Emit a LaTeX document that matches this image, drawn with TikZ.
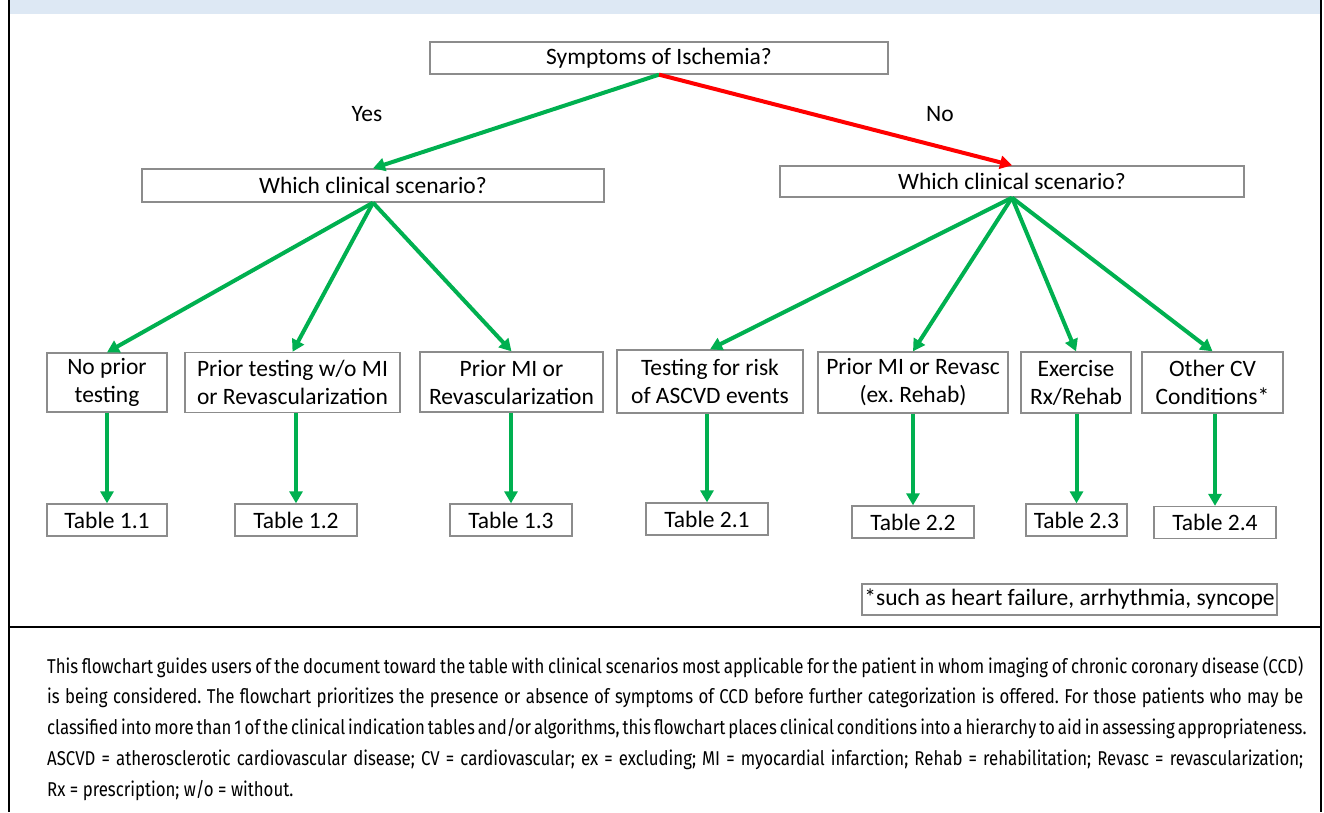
\documentclass[tikz,border=0pt]{standalone}
\usepackage{fontspec}
\setmainfont{Carlito}
\newfontfamily\capfont[FakeStretch=0.84]{Fira Sans}
\usetikzlibrary{arrows.meta}

\definecolor{arrgreen}{RGB}{0,176,80}
\definecolor{arrred}{RGB}{255,0,0}
\definecolor{boxgray}{RGB}{140,140,140}
\definecolor{bandblue}{RGB}{221,232,244}

\begin{document}
\frenchspacing
\begin{tikzpicture}[x=1pt,y=-1pt,
	box/.style={draw=boxgray,line width=1.3pt,fill=white,inner sep=0pt,align=center,
		minimum height=#1,font=\fontsize{23.5}{28}\selectfont},
	box/.default=32pt,
	lbl/.style={inner sep=0pt,font=\fontsize{23.5}{28}\selectfont},
	yesarr/.style={draw=arrgreen,line width=4pt,-{Triangle[width=13pt,length=12pt]}},
	noarr/.style={yesarr,draw=arrred},
	capline/.style={anchor=west,inner sep=0pt,font=\capfont\fontsize{20}{22}\selectfont}]
\useasboundingbox (0,0) rectangle (1324,812);
\fill[bandblue] (10,0) rectangle (1320,13.5);
\draw[line width=2pt] (9,0) -- (9,812) (1321,0) -- (1321,812) (9,627) -- (1321,627);

\path (659,58) node[box,minimum width=458pt] (sym) {Symptoms of Ischemia?}
		(367,114) node[lbl] (yes) {Yes}
		(940,114) node[lbl] (no) {No}
		(373,185.5) node[box=33pt,minimum width=462pt] (whichL) {Which clinical scenario?}
		(1012,181.5) node[box=31pt,minimum width=464pt] (whichR) {Which clinical scenario?}
		(107,382.5) node[box=59pt,minimum width=120pt] (nopr) {No prior\\testing}
		(292.5,382.5) node[box=60pt,minimum width=215pt] (prtst) {Prior testing w/o MI\\or Revascularization}
		(511.5,382) node[box=60pt,minimum width=183pt] (prmi) {Prior MI or\\Revascularization}
		(710,381.5) node[box=63pt,minimum width=186pt] (risk) {Testing for risk\\of ASCVD events}
		(913,382.5) node[box=61pt,minimum width=190pt] (prmir) {Prior MI or Revasc\\(ex. Rehab)}
		(1076,382.5) node[box=61pt,minimum width=110pt] (exrx) {Exercise\\Rx/Rehab}
		(1212.5,382.5) node[box=61pt,minimum width=141pt] (othcv) {Other CV\\Conditions*}
		(107,520) node[box,minimum width=120pt] (t11) {Table 1.1}
		(296,520) node[box,minimum width=122pt] (t12) {Table 1.2}
		(511,520) node[box,minimum width=122pt] (t13) {Table 1.3}
		(707,519) node[box,minimum width=122pt] (t21) {Table 2.1}
		(913,522) node[box,minimum width=122pt] (t22) {Table 2.2}
		(1076.5,520) node[box,minimum width=101pt] (t23) {Table 2.3}
		(1215,522.5) node[box,minimum width=122pt] (t24) {Table 2.4}
		(1069.5,599.5) node[box=31pt,minimum width=415pt] (note) {*such as heart failure, arrhythmia, syncope}
		;

\draw[yesarr]	(node cs:name=sym,anchor=south) -- (node cs:name=whichL,anchor=north);
\draw[noarr]	(node cs:name=sym,anchor=south) -- (node cs:name=whichR,anchor=north);
\draw[yesarr]	(node cs:name=whichL,anchor=south) -- (node cs:name=nopr,anchor=north);
\draw[yesarr]	(node cs:name=whichL,anchor=south) -- (node cs:name=prtst,anchor=north);
\draw[yesarr]	(node cs:name=whichL,anchor=south) -- (node cs:name=prmi,anchor=north);
\draw[yesarr]	(node cs:name=whichR,anchor=south) -- (node cs:name=risk,anchor=north);
\draw[yesarr]	(node cs:name=whichR,anchor=south) -- (node cs:name=prmir,anchor=north);
\draw[yesarr]	(node cs:name=whichR,anchor=south) -- (node cs:name=exrx,anchor=north);
\draw[yesarr]	(node cs:name=whichR,anchor=south) -- (node cs:name=othcv,anchor=north);
\draw[yesarr]	(t11.north |- nopr.south) -- (t11.north);
\draw[yesarr]	(t12.north |- prtst.south) -- (t12.north);
\draw[yesarr]	(t13.north |- prmi.south) -- (t13.north);
\draw[yesarr]	(t21.north |- risk.south) -- (t21.north);
\draw[yesarr]	(t22.north |- prmir.south) -- (t22.north);
\draw[yesarr]	(t23.north |- exrx.south) -- (t23.north);
\draw[yesarr]	(t24.north |- othcv.south) -- (t24.north);

% caption below the chart
\path (47,667) node[capline] (cap1) {\makebox[1256pt][s]{This flowchart guides users of the document toward the table with clinical scenarios most applicable for the patient in whom imaging of chronic coronary disease (CCD)}}
		(47,698) node[capline] (cap2) {\makebox[1256pt][s]{is being considered. The flowchart prioritizes the presence or absence of symptoms of CCD before further categorization is offered. For those patients who may be}}
		(47,729) node[capline] (cap3) {\makebox[1256pt][s]{classified into more than 1 of the clinical indication tables and/or algorithms, this flowchart places clinical conditions into a hierarchy to aid in assessing appropriateness.}}
		(47,760) node[capline] (cap4) {\makebox[1256pt][s]{ASCVD = atherosclerotic cardiovascular disease; CV = cardiovascular; ex = excluding; MI = myocardial infarction; Rehab = rehabilitation; Revasc = revascularization;}}
		(47,791) node[capline] (cap5) {Rx = prescription; w/o = without.}
		;
\end{tikzpicture}
\end{document}
